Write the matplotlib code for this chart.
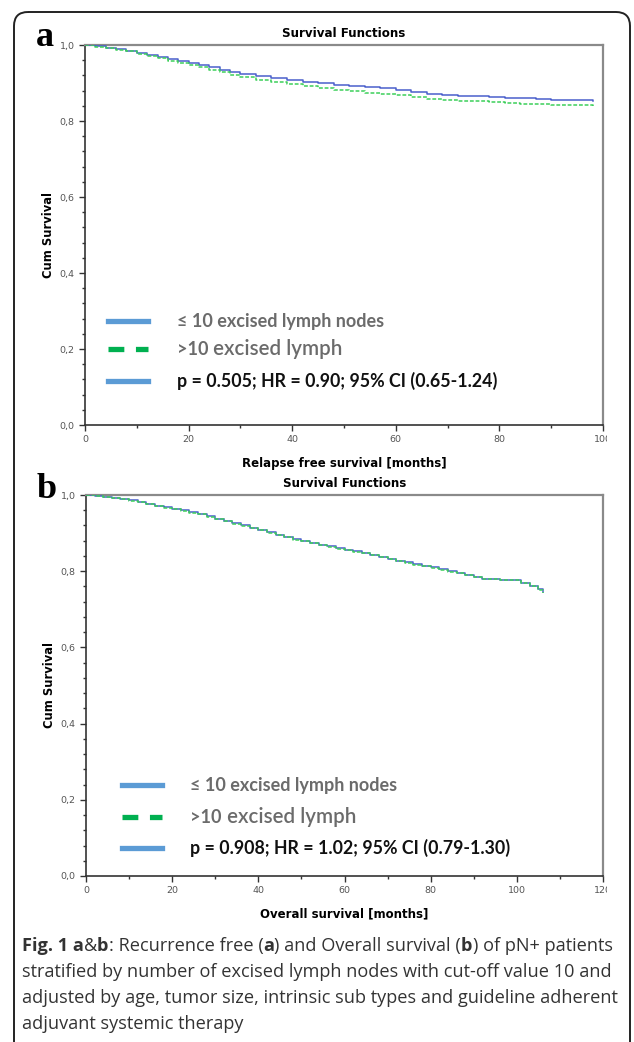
import matplotlib
matplotlib.use('Agg')
import matplotlib.pyplot as plt
from matplotlib.patches import FancyBboxPatch
from matplotlib.lines import Line2D
from matplotlib.transforms import Bbox

# ---- data ----
# panel a: relapse free survival
a_months = [0, 2, 4, 6, 8, 10, 12, 14, 16, 18, 20, 22, 24, 26, 28, 30, 33, 36, 39, 42, 45,
            48, 51, 54, 57, 60, 63, 66, 69, 72, 75, 78, 81, 84, 87, 90, 93, 96, 98]
a_le10 = [1.0, 0.997, 0.993, 0.989, 0.985, 0.980, 0.973, 0.968, 0.963, 0.958, 0.953, 0.948,
          0.942, 0.935, 0.929, 0.925, 0.918, 0.912, 0.907, 0.903, 0.899, 0.896, 0.892, 0.889,
          0.886, 0.882, 0.876, 0.871, 0.869, 0.867, 0.866, 0.864, 0.861, 0.860, 0.858, 0.856,
          0.855, 0.855, 0.853]
a_gt10 = [1.0, 0.996, 0.992, 0.987, 0.983, 0.977, 0.970, 0.965, 0.959, 0.953, 0.947, 0.941,
          0.935, 0.928, 0.921, 0.916, 0.909, 0.903, 0.897, 0.892, 0.887, 0.882, 0.878, 0.874,
          0.871, 0.868, 0.862, 0.857, 0.855, 0.853, 0.852, 0.850, 0.847, 0.846, 0.844, 0.842,
          0.841, 0.841, 0.839]

# panel b: overall survival
b_months = [0, 2, 4, 6, 8, 10, 12, 14, 16, 18, 20, 22, 24, 26, 28, 30, 32, 34, 36, 38, 40,
            42, 44, 46, 48, 50, 52, 54, 56, 58, 60, 62, 64, 66, 68, 70, 72, 74, 76, 78, 80,
            82, 84, 86, 88, 90, 92, 96, 100, 101, 103, 105, 106]
b_le10 = [1.0, 0.998, 0.996, 0.993, 0.990, 0.986, 0.982, 0.977, 0.972, 0.968, 0.964, 0.960,
          0.955, 0.950, 0.944, 0.938, 0.932, 0.926, 0.920, 0.914, 0.908, 0.902, 0.896, 0.890,
          0.884, 0.879, 0.874, 0.869, 0.865, 0.860, 0.856, 0.852, 0.848, 0.843, 0.838, 0.833,
          0.828, 0.823, 0.818, 0.814, 0.810, 0.805, 0.800, 0.795, 0.790, 0.785, 0.780, 0.778,
          0.777, 0.770, 0.762, 0.752, 0.745]
b_gt10 = [1.0, 0.998, 0.995, 0.992, 0.989, 0.985, 0.981, 0.976, 0.971, 0.967, 0.963, 0.959,
          0.954, 0.949, 0.943, 0.937, 0.931, 0.925, 0.919, 0.913, 0.907, 0.901, 0.895, 0.889,
          0.883, 0.878, 0.873, 0.868, 0.864, 0.859, 0.855, 0.851, 0.847, 0.842, 0.837, 0.832,
          0.827, 0.822, 0.817, 0.813, 0.809, 0.804, 0.799, 0.794, 0.789, 0.784, 0.779, 0.777,
          0.776, 0.769, 0.761, 0.751, 0.744]

y_ticks = [0.0, 0.2, 0.4, 0.6, 0.8, 1.0]
y_tick_labels = ['0,0', '0,2', '0,4', '0,6', '0,8', '1,0']
a_x_ticks = [0, 20, 40, 60, 80, 100]
b_x_ticks = [0, 20, 40, 60, 80, 100, 120]

legend_labels = ['\u2264 10 excised lymph nodes', '>10', 'excised lymph']
a_stats = 'p = 0.505; HR = 0.90; 95% CI (0.65-1.24)'
b_stats = 'p = 0.908; HR = 1.02; 95% CI (0.79-1.30)'

W, H = 634, 1042
fig = plt.figure(figsize=(W / 100, H / 100), dpi=100)

# background axes in pixel units for frame, letters and caption
bg = fig.add_axes([0, 0, 1, 1])
bg.set_xlim(0, W)
bg.set_ylim(H, 0)
bg.axis('off')
bg.set_zorder(0)
bg.add_patch(FancyBboxPatch((14, 12), 616, 1100, boxstyle='round,pad=0,rounding_size=14',
                            fc='none', ec='#222222', lw=1.4, clip_on=True))

blue = '#4a5fcc'
green = '#3ccf5a'
gray_tick = '#555555'


def make_panel(rect, months, s1, s2, xmax, xticks, xlabel):
    ax = fig.add_axes(rect)
    ax.set_zorder(1)
    ax.set_facecolor('none')
    ax.step(months, s1, where='post', color=blue, lw=1.1, zorder=3)
    ax.step(months, s2, where='post', color=green, lw=1.1, ls=(0, (2.5, 1.2)), zorder=4)
    ax.set_xlim(0, xmax)
    ax.set_ylim(0, 1.0)
    ax.set_xticks(xticks)
    ax.set_xticklabels([str(t) for t in xticks])
    ax.set_xticks([t + 10 for t in xticks[:-1]], minor=True)
    ax.set_yticks(y_ticks)
    ax.set_yticklabels(y_tick_labels)
    ax.set_yticks([i * 0.04 for i in range(26)], minor=True)
    ax.tick_params(which='major', direction='out', length=4, width=1, colors='#333333',
                   labelsize=6.8, labelcolor=gray_tick)
    ax.tick_params(which='minor', direction='out', length=2.5, width=1, colors='#333333')
    for s in ['left', 'bottom']:
        ax.spines[s].set_color('#333333')
        ax.spines[s].set_linewidth(1.2)
    for s in ['top', 'right']:
        ax.spines[s].set_color('#8a8a8a')
        ax.spines[s].set_linewidth(1.6)
    ax.set_ylabel('Cum Survival', fontsize=8.3, fontweight='bold', labelpad=3)
    ax.set_xlabel(xlabel, fontsize=8.5, fontweight='bold', labelpad=9)
    ax.set_title('Survival Functions', fontsize=8.6, fontweight='bold', pad=6)
    # last tick label is cut by the frame in the original
    lbl = ax.get_xticklabels()[-1]
    lbl.set_clip_box(Bbox.from_extents(0, 0, 607, H))
    lbl.set_clip_on(True)
    return ax


ax_a = make_panel([85 / W, 1 - 425 / H, 518 / W, 380 / H], a_months, a_le10, a_gt10, 100,
                  a_x_ticks, 'Relapse free survival [months]')
ax_b = make_panel([86 / W, 1 - 876 / H, 517 / W, 381 / H], b_months, b_le10, b_gt10, 120,
                  b_x_ticks, 'Overall survival [months]')

# panel letters
bg.text(36, 46, 'a', fontsize=26, fontweight='bold', family='Liberation Serif', va='baseline')
bg.text(37, 498, 'b', fontsize=26, fontweight='bold', family='Liberation Serif', va='baseline')

renderer = fig.canvas.get_renderer()


def run_text(x, y, runs, **kw):
    # place text pieces one after another on the same baseline
    for txt, props in runs:
        t = bg.text(x, y, txt, va='baseline', **kw, **props)
        x += t.get_window_extent(renderer).width
    return x


def legend_block(x0, x1, xt, ys, stats):
    bg.add_line(Line2D([x0, x1], [ys[0], ys[0]], color='#5b9bd5', lw=3.8))
    bg.add_line(Line2D([x0, x1], [ys[1], ys[1]], color='#00b050', lw=3.8, ls=(0, (3, 2.2))))
    bg.add_line(Line2D([x0, x1], [ys[2], ys[2]], color='#5b9bd5', lw=3.8))
    lf = 'Lato'
    bg.text(xt, ys[0] + 6, legend_labels[0], fontsize=13, fontweight='bold', color='#6b6b6b',
            family=lf, va='baseline')
    run_text(xt, ys[1] + 6, [(legend_labels[1], dict(fontsize=13, fontweight='bold')),
                             (' ' + legend_labels[2], dict(fontsize=14.8, fontweight='semibold'))],
             color='#6b6b6b', family=lf)
    bg.text(xt, ys[2] + 6, stats, fontsize=12.8, fontweight='bold', color='#111111',
            family=lf, va='baseline')


legend_block(108, 148, 177, [321, 349, 381], a_stats)
legend_block(122, 162, 190, [785, 817, 848], b_stats)

# caption
cf = 'Open Sans'
cs = 13.1
cc = '#333333'
B = dict(fontweight='bold')
N = dict(fontweight='normal')
run_text(22, 951, [('Fig. 1 a', B), ('&', N), ('b', B), (': Recurrence free (', N), ('a', B),
                   (') and Overall survival (', N), ('b', B), (') of pN+ patients', N)],
         family=cf, fontsize=cs, color=cc)
bg.text(22, 977, 'stratified by number of excised lymph nodes with cut-off value 10 and',
        family=cf, fontsize=cs, color=cc, va='baseline')
bg.text(22, 1003, 'adjusted by age, tumor size, intrinsic sub types and guideline adherent',
        family=cf, fontsize=cs, color=cc, va='baseline')
bg.text(22, 1029, 'adjuvant systemic therapy', family=cf, fontsize=cs, color=cc, va='baseline')

plt.savefig('out.png', dpi=100)
